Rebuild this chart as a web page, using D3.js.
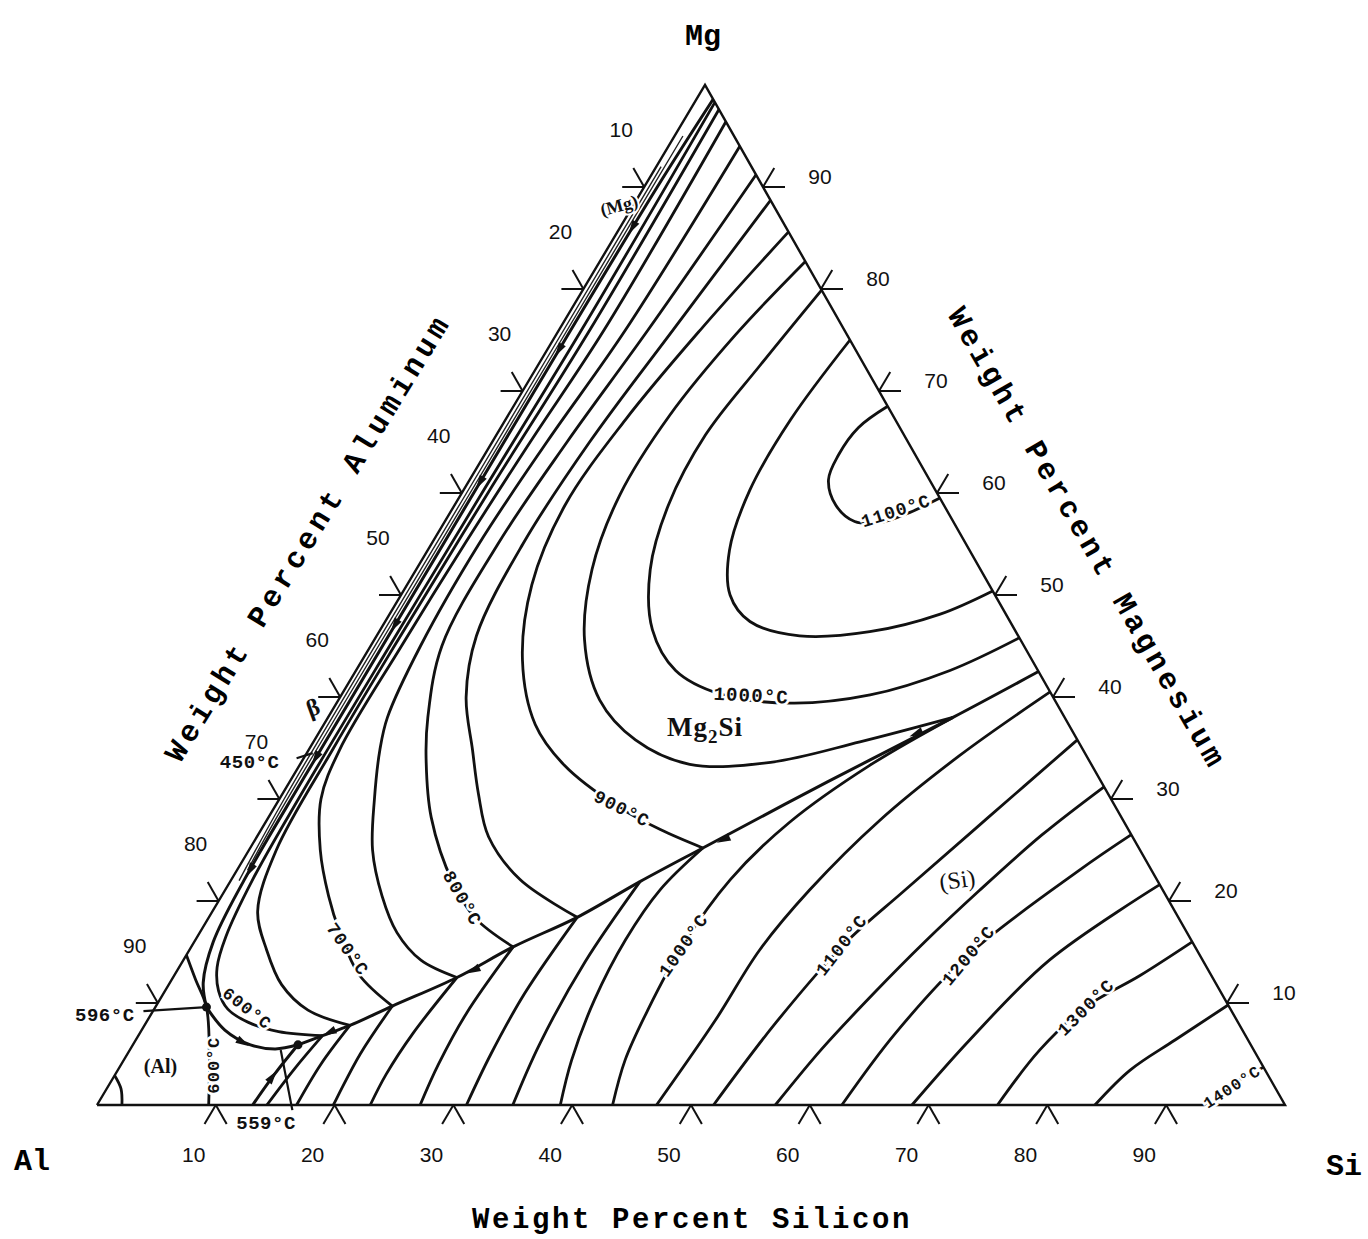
<!DOCTYPE html>
<html>
<head>
<meta charset="utf-8">
<script src="https://cdnjs.cloudflare.com/ajax/libs/d3/7.8.5/d3.min.js"></script>
<style>
  body { margin: 0; background: #fff; }
  div.chart { width: 1368px; height: 1239px; }
</style>
</head>
<body>
<div class="chart"></div>
<script>
// Al-Mg-Si liquidus projection, compositions in wt% [Si, Mg] (Al = rest)

var tickValues = [10, 20, 30, 40, 50, 60, 70, 80, 90];

// isotherms in the Mg2Si field
var mg2si1100 = [[31.5,68.5],[30.1,66.4],[29.8,63.7],[30.2,61.3],[32.1,58.8],[34.5,57.2],[36.7,57.1],[38.7,58.1],[40.5,59.5]];
var mg2si1050 = [[25.0,75.0],[24.0,67.2],[24.1,60.3],[25.4,54.4],[27.7,50.0],[30.7,47.4],[35.6,46.0],[41.3,46.4],[46.3,48.1],[49.6,50.4]];
var mg2si1000 = [[20.1,79.9],[18.7,72.5],[17.6,65.7],[18.0,58.8],[19.7,52.5],[22.9,46.6],[26.9,42.6],[31.8,40.3],[38.2,39.4],[44.5,40.2],[50.0,42.6],[54.2,45.8]];
var mg2si950 = [[17.3,82.7],[15.1,75.5],[13.6,67.6],[13.4,59.8],[14.8,52.5],[17.7,45.6],[22.0,39.7],[27.0,35.8],[32.8,33.4],[39.5,33.6],[46.0,35.6],[52.6,38.0]];
var mg2si900 = [[14.4,85.6],[11.9,76.0],[10.1,67.2],[9.3,58.8],[10.5,51.0],[13.5,43.6],[17.8,37.3],[22.3,33.3],[28.6,29.4],[33.6,27.0],[38.1,25.2]];
var mg2si850 = [[11.3,88.7],[9.6,76.0],[8.2,65.0],[7.7,55.0],[8.4,46.0],[10.6,40.0],[13.8,34.8],[16.5,30.5],[19.5,26.3],[24.3,22.1],[31.0,18.4]];
var mg2si800 = [[8.8,91.2],[7.5,76.0],[6.3,65.0],[5.6,55.0],[6.0,45.0],[8.4,38.0],[10.3,34.0],[13.7,28.2],[18.8,21.8],[22.5,18.3],[27.1,15.5]];
var mg2si750 = [[6.0,94.0],[5.6,76.0],[4.6,65.0],[4.0,55.0],[4.2,45.0],[5.0,38.0],[6.0,34.8],[8.0,30.0],[10.4,25.0],[13.5,20.5],[16.6,16.9],[20.0,14.2],[23.9,12.5]];
var mg2si700 = [[3.6,96.4],[3.8,76.0],[3.2,65.0],[2.8,55.0],[2.6,45.0],[2.6,34.8],[3.5,30.0],[6.0,25.0],[9.0,20.5],[11.8,16.9],[15.5,12.8],[19.9,9.7]];
var mg2si650 = [[2.4,97.6],[2.6,76.0],[2.2,60.0],[2.0,45.0],[2.0,35.0],[2.3,25.0],[3.8,19.0],[6.5,15.2],[9.5,11.8],[13.0,9.3],[17.3,7.8]];
var mg2si600 = [[1.7,98.3],[1.9,76.0],[1.7,60.0],[1.6,45.0],[1.6,30.0],[1.8,22.0],[2.4,16.5],[3.2,13.5],[4.5,11.2],[6.2,9.4],[8.6,8.1],[11.6,7.2],[15.5,6.8]];

// isotherms in the (Si) field
var si600 = [[15.5,6.8],[14.8,3.5],[14.3,0]];
var si650 = [[17.3,7.8],[16.8,4.0],[16.8,0]];
var si700 = [[19.9,9.7],[19.6,5.0],[19.9,0]];
var si750 = [[23.9,12.5],[23.0,7.0],[22.8,3.0],[23.0,0]];
var si800 = [[27.1,15.5],[26.5,9.0],[26.7,4.0],[27.2,0]];
var si850 = [[31.0,18.4],[30.4,11.0],[30.6,5.0],[31.1,0]];
var si900 = [[34.5,21.9],[33.9,14.0],[34.2,6.0],[35.0,0]];
var si950 = [[38.1,25.2],[36.6,21.1],[36.2,16.2],[36.6,10.3],[37.7,4.4],[39.0,0]];
var si1000 = [[52.6,38.0],[48.0,33.3],[44.1,27.7],[42.0,22.1],[41.3,15.7],[41.6,9.3],[42.2,4.4],[43.4,0]];
var si1050 = [[59.5,40.5],[55.1,34.3],[51.6,27.9],[49.2,21.1],[48.0,15.2],[47.8,8.3],[47.1,0]];
var si1100 = [[64.2,35.8],[60.5,28.0],[57.2,21.0],[54.8,15.7],[53.0,8.0],[51.9,0]];
var si1150 = [[68.8,31.2],[66.0,26.5],[63.5,21.0],[61.5,16.0],[59.8,11.0],[58.2,5.5],[57.1,0]];
var si1200 = [[73.5,26.5],[70.9,23.0],[65.8,14.7],[63.6,7.0],[62.7,0]];
var si1250 = [[78.4,21.6],[72.9,14.2],[70.2,6.4],[68.6,0]];
var si1300 = [[84.0,16.0],[81.3,12.7],[78.3,9.6],[76.6,5.4],[75.8,0]];
var si1350 = [[90.2,9.8],[87.5,6.4],[85.2,3.4],[84.0,0]];
var si1400 = [[96.3,3.7],[94.7,2.2],[93.9,0]];

// isotherms in the (Al) field
var al600 = [[0,14.7],[2.0,12.3],[4.3,9.6],[7.0,4.8],[9.4,0]];
var al650 = [[0,2.9],[1.2,1.6],[2.1,0]];

// univariant valleys
var valleyMg2SiSi = [[57.5,42.5],[52.6,38.0],[45.3,31.7],[38.1,25.2],[34.5,21.9],[31.0,18.4],[27.1,15.5],[23.9,12.5],[19.9,9.7],[17.3,7.8],[15.5,6.8],[13.9,5.9]];
var valleyEdge = [[1.4,98.6],[1.1,90.0],[1.0,75.0],[1.0,60.0],[1.0,45.0],[1.0,32.0],[1.1,22.0],[1.6,16.0],[2.8,12.0],[4.3,9.6]];
var valleyAlMg2Si = [[4.3,9.6],[7.0,7.35],[9.9,5.9],[12.2,5.5],[13.9,5.9]];
var valleyAlSi = [[13.9,5.9],[13.4,3.0],[13.1,0]];
var betaLineA = [[0.4,92.0],[0.4,60.0],[0.4,30.0],[0.7,22.0]];
var betaLineB = [[0.7,95.0],[0.7,60.0],[0.7,28.0],[0.9,23.0]];

// invariant points and arrow heads (from, to)
var invariantPts = [[4.3,9.6],[13.9,5.9]];
var arrowPairs = [
  [[1.05,89],[1.05,86]], [[1.0,77],[1.0,74]], [[1.0,64],[1.0,61]], [[1.0,50],[1.0,47]],
  [[1.0,37],[1.0,34]], [[1.05,26],[1.1,23]],
  [[51.5,37.2],[50.3,36.4]], [[40.5,26.8],[39.4,26.0]], [[25.9,14.0],[24.9,13.2]],
  [[16.3,7.4],[15.9,7.1]], [[13.2,1.5],[13.35,2.8]], [[8.0,6.7],[9.2,6.1]]
];

// pointer lines for the invariant temperatures
var pointer596 = [[-0.8,9.2],[4.3,9.6]];
var pointer450 = [[-0.6,34.0],[0.5,34.5]];
var pointer559 = [[12.7,5.4],[16.7,-0.5]];

// annotation texts and where they sit (composition)
var isoLabelText = ["1100°C","1000°C","900°C","800°C","700°C","600°C","600°C","1000°C","1100°C","1200°C","1300°C","1400°C"];
var isoLabelAt = [[37.4,58.3],[34.5,40.2],[29.3,29.1],[20.4,20.3],[13.3,15.3],[7.8,9.5],[7.8,3.9],[41.3,15.7],[54.6,15.7],[65.8,14.7],[78.3,9.6],[94.6,1.8]];
var phaseText = ["(Si)","(Al)","(Mg)","β"];
var phaseAt = [[61.1,22.1],[3.4,3.8],[-1.2,88.2],[-1.8,39.0]];
var invariantText = ["596°C","450°C","559°C"];
var invariantAt = [[-3.9,8.9],[-4.4,33.7],[15.1,-1.7]];

var width = 1368, height = 1239;

var svg = d3.select("div.chart")
            .append("svg")
            .attr("width", width)
            .attr("height", height);

// ternary projection: Si runs along the base, Mg up towards the apex
var origin = [97, 1105];
var siScale = d3.scaleLinear().domain([0, 100]).range([0, 1188]);
var mgXScale = d3.scaleLinear().domain([0, 100]).range([0, 608]);
var mgYScale = d3.scaleLinear().domain([0, 100]).range([0, 1020]);

function project(d) {
  return [origin[0] + siScale(d[0]) + mgXScale(d[1]), origin[1] - mgYScale(d[1])];
}

var smooth = d3.line()
    .x(function(d){ return project(d)[0]; })
    .y(function(d){ return project(d)[1]; })
    .curve(d3.curveCatmullRom.alpha(0.5));

var straight = d3.line()
    .x(function(d){ return project(d)[0]; })
    .y(function(d){ return project(d)[1]; });

var isotherms = [mg2si1100, mg2si1050, mg2si1000, mg2si950, mg2si900, mg2si850, mg2si800,
                 mg2si750, mg2si700, mg2si650, mg2si600,
                 si600, si650, si700, si750, si800, si850, si900, si950, si1000, si1050,
                 si1100, si1150, si1200, si1250, si1300, si1350, si1400,
                 al600, al650];

svg.append("g")
    .selectAll("path")
    .data(isotherms)
    .enter()
    .append("path")
    .attr("d", smooth)
    .attr("fill", "none")
    .attr("stroke", "#111")
    .attr("stroke-width", 2.8);

//valleys
svg.append("g")
    .selectAll("path")
    .data([valleyMg2SiSi, valleyEdge, valleyAlMg2Si, valleyAlSi])
    .enter()
    .append("path")
    .attr("d", smooth)
    .attr("fill", "none")
    .attr("stroke", "#111")
    .attr("stroke-width", 3);

svg.append("g")
    .selectAll("path")
    .data([betaLineA, betaLineB])
    .enter()
    .append("path")
    .attr("d", smooth)
    .attr("fill", "none")
    .attr("stroke", "#222")
    .attr("stroke-width", 1.4);

svg.append("g")
    .selectAll("path")
    .data([pointer596, pointer450, pointer559])
    .enter()
    .append("path")
    .attr("d", straight)
    .attr("fill", "none")
    .attr("stroke", "#111")
    .attr("stroke-width", 2.2);

// triangle outline
svg.append("path")
    .attr("d", straight([[0,0],[100,0],[0,100],[0,0]]))
    .attr("fill", "none")
    .attr("stroke", "#111")
    .attr("stroke-width", 2.4)
    .attr("stroke-linejoin", "miter");

// arrow heads along the valleys
svg.append("g")
    .selectAll("path")
    .data(arrowPairs)
    .enter()
    .append("path")
    .attr("d", "M7,0L-7,-4L-7,4Z")
    .attr("fill", "#111")
    .attr("transform", function(d){
      var p = project(d[0]), q = project(d[1]);
      var ang = Math.atan2(q[1] - p[1], q[0] - p[0]) * 180 / Math.PI;
      return "translate(" + q[0] + "," + q[1] + ") rotate(" + ang + ")";
    });

svg.append("g")
    .selectAll("circle")
    .data(invariantPts)
    .enter()
    .append("circle")
    .attr("cx", function(d){ return project(d)[0]; })
    .attr("cy", function(d){ return project(d)[1]; })
    .attr("r", 4.5)
    .attr("fill", "#111");

// ticks: two short strokes at each 10 %, along the composition directions
var tickLen = 22;
var dirMg = [0.512, -0.859];   // constant Si direction
var dirAl = [0.494, 0.869];    // constant Al direction (parallel to Si-Mg side)
var ticks = svg.append("g").attr("stroke", "#111").attr("stroke-width", 2);

tickValues.forEach(function(t){
  var b = project([t, 0]);
  ticks.append("line").attr("x1", b[0]).attr("y1", b[1]).attr("x2", b[0] - tickLen*dirMg[0]).attr("y2", b[1] - tickLen*dirMg[1]);
  ticks.append("line").attr("x1", b[0]).attr("y1", b[1]).attr("x2", b[0] + tickLen*dirAl[0]).attr("y2", b[1] + tickLen*dirAl[1]);
  var l = project([0, 100 - t]);
  ticks.append("line").attr("x1", l[0]).attr("y1", l[1]).attr("x2", l[0] - tickLen).attr("y2", l[1]);
  ticks.append("line").attr("x1", l[0]).attr("y1", l[1]).attr("x2", l[0] - tickLen*dirAl[0]).attr("y2", l[1] - tickLen*dirAl[1]);
  var r = project([100 - t, t]);
  ticks.append("line").attr("x1", r[0]).attr("y1", r[1]).attr("x2", r[0] + tickLen).attr("y2", r[1]);
  ticks.append("line").attr("x1", r[0]).attr("y1", r[1]).attr("x2", r[0] + tickLen*dirMg[0]).attr("y2", r[1] + tickLen*dirMg[1]);
});

var numFont = "'Liberation Sans Narrow','Liberation Sans',Arial,sans-serif";
var labels = svg.append("g").attr("font-family", numFont).attr("font-size", 21).attr("fill", "#111").attr("text-anchor", "middle");

tickValues.forEach(function(t){
  var b = project([t, 0]);
  labels.append("text").attr("x", b[0] - 22).attr("y", b[1] + 57).text(t);
  var l = project([0, 100 - t]);
  labels.append("text").attr("x", l[0] - 23).attr("y", l[1] - 50).text(t);
  var r = project([100 - t, t]);
  labels.append("text").attr("x", r[0] + 57).attr("y", r[1] - 3).text(t);
});

// vertex names and axis titles
var titleFont = "'Liberation Mono','DejaVu Sans Mono',monospace";
svg.append("text").attr("x", 703).attr("y", 45).attr("text-anchor", "middle")
   .attr("font-family", titleFont).attr("font-weight", "bold").attr("font-size", 30).text("Mg");
svg.append("text").attr("x", 32).attr("y", 1170).attr("text-anchor", "middle")
   .attr("font-family", titleFont).attr("font-weight", "bold").attr("font-size", 30).text("Al");
svg.append("text").attr("x", 1344).attr("y", 1175).attr("text-anchor", "middle")
   .attr("font-family", titleFont).attr("font-weight", "bold").attr("font-size", 30).text("Si");

svg.append("text").attr("x", 692).attr("y", 1228).attr("text-anchor", "middle")
   .attr("font-family", titleFont).attr("font-weight", "bold").attr("font-size", 29)
   .attr("letter-spacing", 2.6).text("Weight Percent Silicon");
svg.append("text").attr("transform", "translate(307,537) rotate(-58.5)").attr("text-anchor", "middle")
   .attr("dy", "0.35em")
   .attr("font-family", titleFont).attr("font-weight", "bold").attr("font-size", 30)
   .attr("letter-spacing", 4.6).text("Weight Percent Aluminum");
svg.append("text").attr("transform", "translate(1088,538) rotate(60)").attr("text-anchor", "middle")
   .attr("dy", "0.35em")
   .attr("font-family", titleFont).attr("font-weight", "bold").attr("font-size", 30)
   .attr("letter-spacing", 4).text("Weight Percent Magnesium");

// isotherm labels, cut into their lines with a white halo
var isoRotate = [-18, 3, 27, 60, 55, 38, -90, -55, -52, -50, -45, -33];
var isoSize = [18, 19, 18, 18, 18, 17, 17, 18, 18, 18, 18, 16];
svg.append("g")
    .selectAll("text")
    .data(isoLabelText)
    .enter()
    .append("text")
    .attr("transform", function(d, i){
      var p = project(isoLabelAt[i]);
      return "translate(" + p[0] + "," + p[1] + ") rotate(" + isoRotate[i] + ")";
    })
    .attr("dy", "0.35em")
    .attr("text-anchor", "middle")
    .attr("font-family", titleFont)
    .attr("font-weight", "bold")
    .attr("font-size", function(d, i){ return isoSize[i]; })
    .attr("letter-spacing", 1.2)
    .attr("fill", "#111")
    .attr("stroke", "#fff")
    .attr("stroke-width", 5)
    .attr("paint-order", "stroke")
    .text(function(d){ return d; });

var phaseRotate = [-8, 0, -15, -20];
var phaseSize = [24, 20, 18, 24];
svg.append("g")
    .selectAll("text")
    .data(phaseText)
    .enter()
    .append("text")
    .attr("transform", function(d, i){
      var p = project(phaseAt[i]);
      return "translate(" + p[0] + "," + p[1] + ") rotate(" + phaseRotate[i] + ")";
    })
    .attr("dy", "0.35em")
    .attr("text-anchor", "middle")
    .attr("font-family", "'Liberation Serif','DejaVu Serif',serif")
    .attr("font-weight", function(d, i){ return i == 0 ? "normal" : "bold"; })
    .attr("font-size", function(d, i){ return phaseSize[i]; })
    .attr("fill", "#111")
    .attr("stroke", "#fff")
    .attr("stroke-width", 4)
    .attr("paint-order", "stroke")
    .text(function(d){ return d; });

// Mg2Si with subscript
var m2 = project([32.2, 37.1]);
var mgsi = svg.append("text")
    .attr("x", m2[0]).attr("y", m2[1] + 9)
    .attr("text-anchor", "middle")
    .attr("font-family", "'Liberation Serif','DejaVu Serif',serif")
    .attr("font-weight", "bold")
    .attr("font-size", 27)
    .attr("letter-spacing", 1)
    .attr("fill", "#111");
mgsi.append("tspan").text("Mg");
mgsi.append("tspan").attr("font-size", 19).attr("dy", 7).text("2");
mgsi.append("tspan").attr("dy", -7).text("Si");

svg.append("g")
    .selectAll("text")
    .data(invariantText)
    .enter()
    .append("text")
    .attr("transform", function(d, i){
      var p = project(invariantAt[i]);
      return "translate(" + p[0] + "," + p[1] + ")";
    })
    .attr("dy", "0.35em")
    .attr("text-anchor", "middle")
    .attr("font-family", titleFont)
    .attr("font-weight", "bold")
    .attr("font-size", 19)
    .attr("letter-spacing", 0.5)
    .attr("fill", "#111")
    .attr("stroke", "#fff")
    .attr("stroke-width", 4)
    .attr("paint-order", "stroke")
    .text(function(d){ return d; });
</script>
</body>
</html>
